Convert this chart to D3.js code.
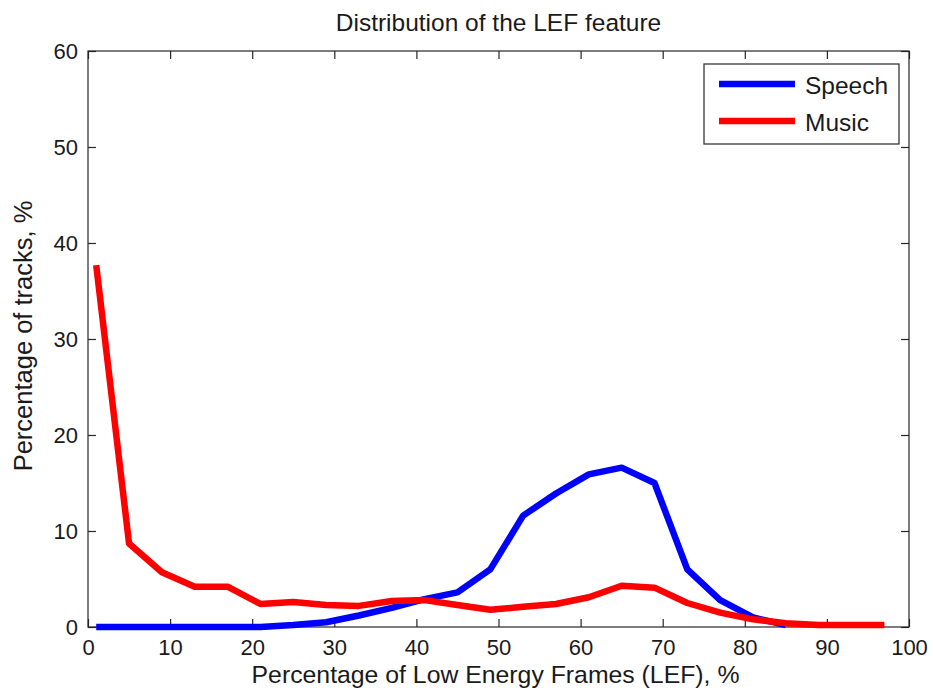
<!DOCTYPE html>
<html>
<head>
<meta charset="utf-8">
<script src="https://cdn.jsdelivr.net/npm/d3@7"></script>
<style>
  body { margin: 0; background: #fff; }
  text { font-family: "Liberation Sans", Arial, sans-serif; fill: #1a1a1a; }
</style>
</head>
<body>
<div id="grafo"></div>
<script>
// bin centres of the LEF histogram, %
var lefBins = [1, 5, 9, 13, 17, 21, 25, 29, 33, 37, 41, 45, 49, 53, 57, 61, 65, 69, 73, 77, 81, 85, 89, 93, 97];

// percentage of tracks per bin
var speechValues = [0, 0, 0, 0, 0, 0, 0.2, 0.5, 1.2, 2.0, 2.9, 3.6, 6.0, 11.6, 13.9, 15.9, 16.6, 15.0, 6.0, 2.8, 1.0, 0.2];
var musicValues = [37.7, 8.7, 5.7, 4.2, 4.2, 2.4, 2.6, 2.3, 2.2, 2.7, 2.8, 2.3, 1.8, 2.1, 2.4, 3.1, 4.3, 4.1, 2.5, 1.5, 0.8, 0.4, 0.2, 0.2, 0.2];

var xTicks = [0, 10, 20, 30, 40, 50, 60, 70, 80, 90, 100];
var yTicks = [0, 10, 20, 30, 40, 50, 60];

var seriesNames = ["Speech", "Music"];
var seriesColors = ["#0000ff", "#ff0000"];

var w = 933,
    h = 694;
var margin = {top: 51, right: 24, bottom: 67, left: 88};
var tickLen = 8;
var lineWidth = 6.5;
var tickFont = "22px",
    labelFont = "24.8px";

var svg = d3.select("#grafo")
    .append("svg")
    .attr("width", w)
    .attr("height", h);

var x = d3.scaleLinear().domain([0, 100]).range([margin.left, w - margin.right]);
var y = d3.scaleLinear().domain([0, 60]).range([h - margin.bottom, margin.top]);

// axes: ticks point inwards, mirrored on top and right like matlab
var axisColor = "#262626";
function styleAxis(g) {
    g.select(".domain").remove();
    g.selectAll(".tick line").attr("stroke", axisColor).attr("stroke-width", 1.2);
}

svg.append("g")
    .attr("transform", "translate(0," + y(0) + ")")
    .call(d3.axisBottom(x).tickValues(xTicks).tickSize(-tickLen).tickPadding(12))
    .call(styleAxis)
    .selectAll("text")
    .attr("font-size", tickFont)
    .attr("fill", "#1a1a1a");

svg.append("g")
    .attr("transform", "translate(0," + y(60) + ")")
    .call(d3.axisTop(x).tickValues(xTicks).tickSize(-tickLen).tickFormat(""))
    .call(styleAxis);

svg.append("g")
    .attr("transform", "translate(" + x(0) + ",0)")
    .call(d3.axisLeft(y).tickValues(yTicks).tickSize(-tickLen).tickPadding(10))
    .call(styleAxis)
    .selectAll("text")
    .attr("font-size", tickFont)
    .attr("fill", "#1a1a1a");

svg.append("g")
    .attr("transform", "translate(" + x(100) + ",0)")
    .call(d3.axisRight(y).tickValues(yTicks).tickSize(-tickLen).tickFormat(""))
    .call(styleAxis);

// frame
svg.append("rect")
    .attr("x", x(0))
    .attr("y", y(60))
    .attr("width", x(100) - x(0))
    .attr("height", y(0) - y(60))
    .attr("fill", "none")
    .attr("stroke", axisColor)
    .attr("stroke-width", 1.2);

// curves
var line = d3.line()
    .x(function(d) { return x(d.x); })
    .y(function(d) { return y(d.y); });

var series = [speechValues, musicValues];
for (var i = 0; i < series.length; i++) {
    var pts = series[i].map(function(v, j) { return {x: lefBins[j], y: v}; });
    svg.append("path")
        .datum(pts)
        .attr("d", line)
        .attr("fill", "none")
        .attr("stroke", seriesColors[i])
        .attr("stroke-width", lineWidth)
        .attr("stroke-linejoin", "round");
}

// legend
var legend = svg.append("g").attr("transform", "translate(704,64)");
legend.append("rect")
    .attr("width", 195)
    .attr("height", 80)
    .attr("fill", "#fff")
    .attr("stroke", axisColor)
    .attr("stroke-width", 1.2);

var rows = legend.selectAll("g.row")
    .data(seriesNames)
    .enter().append("g")
    .attr("class", "row")
    .attr("transform", function(d, i) { return "translate(0," + (20 + i * 37) + ")"; });

rows.append("line")
    .attr("x1", 15)
    .attr("x2", 91)
    .attr("stroke", function(d, i) { return seriesColors[i]; })
    .attr("stroke-width", lineWidth);

rows.append("text")
    .attr("x", 101)
    .attr("y", 10)
    .attr("font-size", "24.5px")
    .text(function(d) { return d; });

// title and labels
svg.append("text")
    .attr("x", (x(0) + x(100)) / 2)
    .attr("y", 31)
    .attr("text-anchor", "middle")
    .attr("font-size", "24.5px")
    .text("Distribution of the LEF feature");

svg.append("text")
    .attr("x", (x(0) + x(100)) / 2 - 3)
    .attr("y", 683)
    .attr("text-anchor", "middle")
    .attr("font-size", labelFont)
    .text("Percentage of Low Energy Frames (LEF), %");

svg.append("text")
    .attr("transform", "translate(32," + ((y(0) + y(60)) / 2 - 3) + ") rotate(-90)")
    .attr("text-anchor", "middle")
    .attr("font-size", "25.5px")
    .text("Percentage of tracks, %");
</script>
</body>
</html>
